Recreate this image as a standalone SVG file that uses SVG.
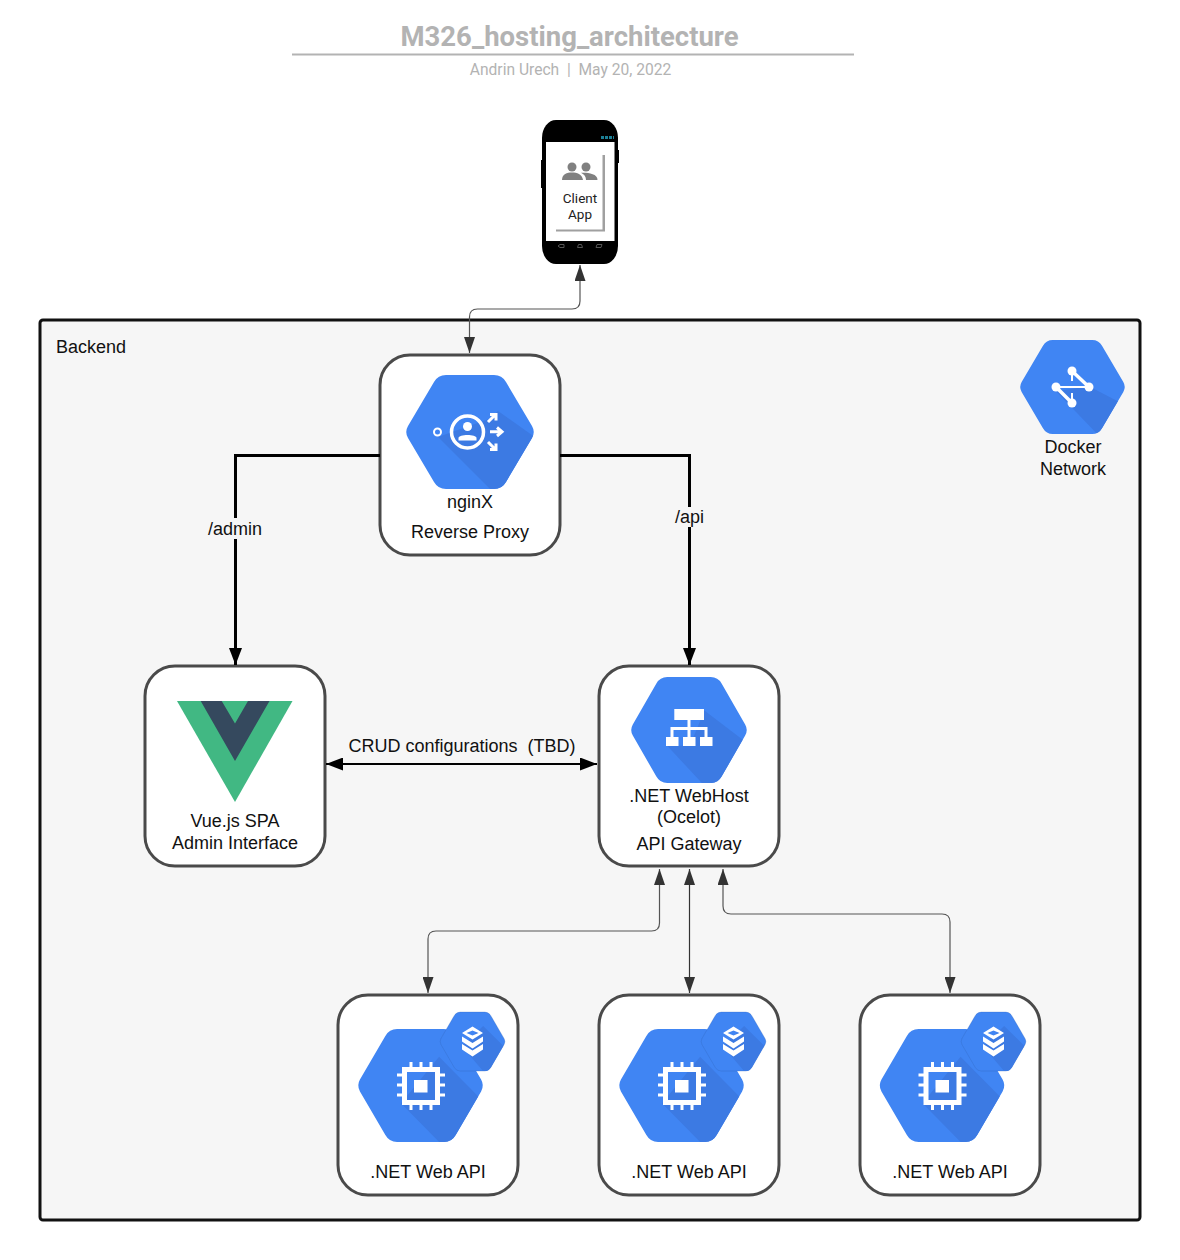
<svg xmlns="http://www.w3.org/2000/svg" width="1180" height="1260" viewBox="0 0 1180 1260">
<style>
text{font-family:"Liberation Sans",Arial,sans-serif;font-size:18px;fill:#111;text-anchor:middle;white-space:pre}
.box{fill:#fff;stroke:#4a4a4a;stroke-width:3}
.hex{fill:#4085f3}
.shade{fill:#3c7ae3}
.thin{fill:none;stroke:#555;stroke-width:1.2}
.thick{fill:none;stroke:#000;stroke-width:3}
.ic{fill:#fff}
.icl{fill:none;stroke:#fff}
.rb{font-family:Roboto,"Liberation Sans",sans-serif}
</style>
<defs>
<path id="hexp" d="M40 0H88Q96 0 100 7L126 51Q129.500 57 126 63L100 107Q96 114 88 114H40Q32 114 28 107L2 63Q-1.500 57 2 51L28 7Q32 0 40 0Z"/>
<clipPath id="hexc"><use href="#hexp"/></clipPath>
<marker id="a" markerUnits="userSpaceOnUse" viewBox="0 0 16 11" refX="16" refY="5.500" markerWidth="16" markerHeight="11" orient="auto-start-reverse"><path d="M0 0L16 5.500L0 11Z" fill="#333"/></marker>
<marker id="b" markerUnits="userSpaceOnUse" viewBox="0 0 17 13" refX="17" refY="6.500" markerWidth="17" markerHeight="13" orient="auto-start-reverse"><path d="M0 0L17 6.500L0 13Z" fill="#000"/></marker>
<g id="compute">
<use href="#hexp" class="hex" transform="translate(358 1029) scale(.977 .991)"/>
<g transform="translate(358 1029) scale(.977 .991)" clip-path="url(#hexc)"><path class="shade" d="M44 75L100 131L140 120V85L83 28Z"/></g>
<rect class="icl" x="404.500" y="1069.500" width="33" height="33" stroke-width="5"/>
<rect class="ic" x="414" y="1080" width="13.500" height="12.500"/>
<path class="icl" stroke-width="3" d="M411 1062v6M421 1062v6M431 1062v6M411 1104v6M421 1104v6M431 1104v6M397 1075h6M397 1085h6M397 1095h6M439 1075h6M439 1085h6M439 1095h6"/>
</g>
<g id="storage">
<use href="#hexp" class="hex" stroke="#2f5fb0" stroke-width=".5" transform="translate(440 1012) scale(.508 .518)"/>
<g transform="translate(440 1012) scale(.508 .518)" clip-path="url(#hexc)"><path class="shade" d="M43 66L90 120L140 110V80L85 27Z"/></g>
<path class="ic" fill-rule="evenodd" d="M472.500 1026.500L483 1033L472.500 1039.500L462 1033ZM472.500 1030.500L466.500 1033L472.500 1035.500L478.500 1033Z"/>
<path class="ic" d="M462 1036.500L472.500 1043L483 1036.500V1041.500L472.500 1048.500L462 1041.500Z"/>
<path class="ic" d="M462 1044L472.500 1050.500L483 1044V1049.500L472.500 1056.500L462 1049.500Z"/>
</g>
</defs>

<g id="title">
<text class="rb" x="569.500" y="46" style="font-size:27.500px;font-weight:bold;fill:#b3b3b3">M326_hosting_architecture</text>
<path d="M292 54.500H854" stroke="#b3b3b3" stroke-width="2" fill="none"/>
<text class="rb" x="570.500" y="75" style="font-size:15.600px;fill:#b3b3b3">Andrin Urech  |  May 20, 2022</text>
</g>

<g id="backend">
<rect x="40" y="320" width="1100" height="900" rx="3" fill="#f6f6f6" stroke="#111" stroke-width="3"/>
<text x="56" y="353" style="text-anchor:start">Backend</text>
</g>

<g id="client-app">
<rect x="541" y="160" width="4" height="28" fill="#000"/>
<rect x="616" y="150" width="3" height="13" fill="#000"/>
<rect x="542" y="120" width="76" height="144" rx="14" ry="18" fill="#000"/>
<rect x="546" y="142" width="68.500" height="99" fill="#fff"/>
<path d="M602.500 155H605V231.500H556V229.500H602.500Z" fill="#a0a0a0"/>
<path d="M601 137.500h13" stroke="#1c7f95" stroke-width="3" stroke-dasharray="3 1" fill="none"/>
<path d="M558 246l2-1.500h4v3h-4ZM577.500 247.500l1-3h3l1 3ZM597 244.500h5l-1 3h-5Z" fill="none" stroke="#555"/>
<g fill="#808080">
<circle cx="572" cy="167" r="4.500"/>
<circle cx="586" cy="167" r="4.500"/>
<path d="M562 180C562 174 567 172.500 572 172.500C577 172.500 582 174 583 180Z"/>
<path d="M581 172.800C584 172.300 598 172.500 597.500 180H586C586 177 584.500 174.500 581 172.800Z"/>
</g>
<text class="rb" x="580" y="203" style="font-size:13.500px;fill:#222">Client</text>
<text class="rb" x="580" y="219" style="font-size:13.500px;fill:#222">App</text>
</g>

<g id="nginx">
<rect class="box" x="380" y="355" width="180" height="200" rx="30"/>
<use href="#hexp" class="hex" transform="translate(406 375)"/>
<g transform="translate(406 375)" clip-path="url(#hexc)"><path class="shade" d="M32 62L90 120H140V70L92 36L83 44Z"/></g>
<circle class="icl" cx="437.500" cy="432" r="3.500" stroke-width="2"/>
<circle class="icl" cx="467.500" cy="432" r="16" stroke-width="3.500"/>
<circle class="ic" cx="467.500" cy="426.500" r="4.500"/>
<path class="ic" d="M458.500 440.500V438C458.500 434 476.500 434 476.500 438V440.500Z"/>
<path class="icl" stroke-width="3" d="M490 431.800H501M497 427.500L502 431.800L497 436M488 422L495 415M490 414.500H496V420.500M488 442L495 449M496 443.500V449.500H490"/>
<text x="470" y="508">nginX</text>
<text x="470" y="538">Reverse Proxy</text>
</g>

<g id="docker-network">
<use href="#hexp" class="hex" transform="translate(1020 340) scale(.82 .825)"/>
<g transform="translate(1020 340) scale(.82 .825)" clip-path="url(#hexc)"><path class="shade" d="M44 62L100 120H140V85L84 56Z"/></g>
<path class="icl" stroke-width="3.500" d="M1072 371L1089 387M1056 387L1072 403"/>
<path class="icl" stroke-width="2" d="M1056 387H1089M1072 371V381M1072 393V403"/>
<circle class="ic" cx="1072" cy="371" r="4.500"/>
<circle class="ic" cx="1056" cy="387" r="4.500"/>
<circle class="ic" cx="1089" cy="387" r="4.500"/>
<circle class="ic" cx="1072" cy="403" r="4.500"/>
<text x="1073" y="453">Docker</text>
<text x="1073" y="475">Network</text>
</g>

<g id="vue-spa">
<rect class="box" x="145" y="666" width="180" height="200" rx="30"/>
<path d="M177 701H292.500L235 802Z" fill="#41b883"/>
<path d="M200.700 701H221.700L235 723.500L248 701H269.500L235 761Z" fill="#35495e"/>
<text x="235" y="827">Vue.js SPA</text>
<text x="235" y="849">Admin Interface</text>
</g>

<g id="api-gateway">
<rect class="box" x="599" y="666" width="180" height="200" rx="30"/>
<use href="#hexp" class="hex" transform="translate(631 677) scale(.906 .93)"/>
<g transform="translate(631 677) scale(.906 .93)" clip-path="url(#hexc)"><path class="shade" d="M40 74L84 120H140V80L81 36L65 74Z"/></g>
<rect class="ic" x="674.300" y="709" width="29.700" height="11"/>
<path class="icl" stroke-width="3" d="M689 720V737M672 737V728.500H706V737"/>
<rect class="ic" x="666" y="737" width="12.500" height="9"/>
<rect class="ic" x="683" y="737" width="12.500" height="9"/>
<rect class="ic" x="700" y="737" width="12.500" height="9"/>
<text x="689" y="802">.NET WebHost</text>
<text x="689" y="823">(Ocelot)</text>
<text x="689" y="850">API Gateway</text>
</g>

<g id="web-api-1">
<rect class="box" x="338" y="995" width="180" height="200" rx="30"/>
<use href="#compute"/>
<use href="#storage"/>
<text x="428" y="1178">.NET Web API</text>
</g>
<g id="web-api-2">
<rect class="box" x="599" y="995" width="180" height="200" rx="30"/>
<use href="#compute" x="261"/>
<use href="#storage" x="261"/>
<text x="689" y="1178">.NET Web API</text>
</g>
<g id="web-api-3">
<rect class="box" x="860" y="995" width="180" height="200" rx="30"/>
<use href="#compute" x="521.500"/>
<use href="#storage" x="521"/>
<text x="950" y="1178">.NET Web API</text>
</g>

<g id="connectors">
<path class="thin" marker-start="url(#a)" marker-end="url(#a)" d="M580 265V301Q580 309 572 309H477.500Q469.500 309 469.500 317V353"/>
<path class="thick" marker-end="url(#b)" d="M380 455.500H235.500V665"/>
<path class="thick" marker-end="url(#b)" d="M560 455.500H689.500V665"/>
<path fill="none" stroke="#000" stroke-width="2" marker-start="url(#b)" marker-end="url(#b)" d="M326 764H597"/>
<path class="thin" marker-start="url(#a)" marker-end="url(#a)" d="M659.500 869V923Q659.500 931 651.500 931H436Q428 931 428 939V993"/>
<path class="thin" style="stroke:#333" marker-start="url(#a)" marker-end="url(#a)" d="M689.500 869V993"/>
<path class="thin" marker-start="url(#a)" marker-end="url(#a)" d="M723 869V906Q723 914 731 914H942Q950 914 950 922V993"/>
<rect x="206" y="518" width="58" height="21" fill="#f6f6f6"/>
<text x="235" y="535">/admin</text>
<rect x="673" y="507" width="33" height="20" fill="#f6f6f6"/>
<text x="689.500" y="523">/api</text>
<text x="462" y="752">CRUD configurations  (TBD)</text>
</g>
</svg>
